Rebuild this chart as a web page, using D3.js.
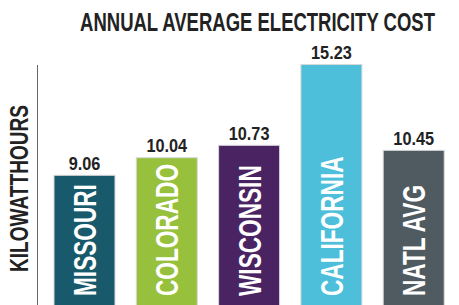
<!DOCTYPE html>
<html><head><meta charset="utf-8">
<script src="https://cdn.jsdelivr.net/npm/d3@7/dist/d3.min.js"></script>
<style>
html,body{margin:0;padding:0;background:#fff;}
svg{display:block;}
text{font-family:"Liberation Sans","DejaVu Sans",sans-serif;font-weight:bold;}
</style></head>
<body>
<script>
const categories = ["MISSOURI", "COLORADO", "WISCONSIN", "CALIFORNIA", "NATL AVG"];
const values = [9.06, 10.04, 10.73, 15.23, 10.45];
const valueLabels = ["9.06", "10.04", "10.73", "15.23", "10.45"];
const colors = ["#185a6b", "#97c13c", "#4a2363", "#4dbfda", "#4f5b61"];
const title = "ANNUAL AVERAGE ELECTRICITY COST";
const yTitle = "KILOWATTHOURS";

const W = 459, H = 305;
const svg = d3.select("body").append("svg").attr("width", W).attr("height", H);

const x = d3.scaleBand().domain(categories).range([54, 444.2]).paddingInner(0.259).paddingOuter(0);
const y = d3.scaleLinear().domain([0, 15.23]).range([338, 64.5]);

function squeeze(sel, factor) {
  sel.each(function () {
    const w = this.getComputedTextLength();
    d3.select(this).attr("textLength", w * factor).attr("lengthAdjust", "spacingAndGlyphs");
  });
}

// axis line
const axis = d3.axisLeft(y).tickValues([]).tickSizeOuter(0);
const ag = svg.append("g").attr("transform", "translate(37.5,0)").call(axis);
ag.select(".domain").attr("stroke", "#666").attr("stroke-width", 1)
  .attr("d", `M0,65V${H}`);

// bars
svg.selectAll("rect.bar").data(categories).join("rect")
  .attr("class", "bar")
  .attr("x", d => x(d))
  .attr("width", x.bandwidth())
  .attr("y", (d, i) => y(values[i]))
  .attr("height", (d, i) => H + 5 - y(values[i]))
  .attr("fill", (d, i) => colors[i])
  .attr("stroke", "#d8d8d8").attr("stroke-width", 1);

// value labels
svg.selectAll("text.val").data(categories).join("text")
  .attr("class", "val")
  .attr("x", d => x(d) + x.bandwidth() / 2)
  .attr("y", (d, i) => y(values[i]) - 5.5)
  .attr("text-anchor", "middle")
  .attr("font-size", 17.5)
  .attr("fill", "#222")
  .text((d, i) => valueLabels[i])
  .call(squeeze, 0.93);

// category labels inside bars
svg.selectAll("text.cat").data(categories).join("text")
  .attr("class", "cat")
  .attr("transform", d => `translate(${x(d) + x.bandwidth() / 2 + 11.5},296) rotate(-90)`)
  .attr("text-anchor", "start")
  .attr("font-size", 31)
  .attr("fill", "#fff")
  .text(d => d)
  .call(squeeze, 0.73);

// title (horizontally condensed via transform)
const tg = svg.append("g");
const tt = tg.append("text")
  .attr("text-anchor", "middle")
  .attr("font-size", 25)
  .attr("fill", "#222")
  .text(title);
const tw = tt.node().getComputedTextLength();
tg.attr("transform", `translate(257.5,31) scale(${355 / tw},1)`);

// y title
svg.append("text")
  .attr("transform", "translate(28,188.5) rotate(-90)")
  .attr("text-anchor", "middle")
  .attr("font-size", 25)
  .attr("fill", "#222")
  .text(yTitle)
  .attr("textLength", 167).attr("lengthAdjust", "spacingAndGlyphs");
</script>
</body></html>
